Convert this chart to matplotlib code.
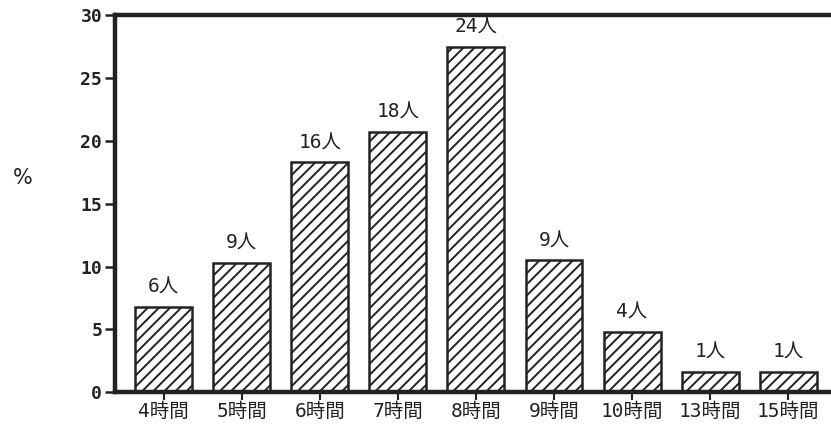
import numpy as np
import matplotlib.pyplot as plt

plt.rcParams['font.family'] = ['DejaVu Sans Mono', 'Noto Sans CJK JP']
plt.rcParams['hatch.linewidth'] = 1.4

hours = ['4時間', '5時間', '6時間', '7時間', '8時間', '9時間', '10時間', '13時間', '15時間']
people = [6, 9, 16, 18, 24, 9, 4, 1, 1]
# bar heights in %
percent = [6.8, 10.3, 18.3, 20.7, 27.5, 10.5, 4.8, 1.6, 1.6]
bar_labels = [f'{p}人' for p in people]

fig = plt.figure(figsize=(8.31, 4.32), dpi=100)
ax = fig.add_axes([0.138, 0.092, 0.862, 0.873])

x = np.arange(len(hours))
bars = ax.bar(x, percent, width=0.73, color='white', edgecolor='#222222',
              linewidth=1.8, hatch='///')

for b, lab in zip(bars, bar_labels):
    ax.text(b.get_x() + b.get_width() / 2, b.get_height() + 0.8, lab,
            ha='center', va='bottom', fontsize=14, color='#222222')

ax.set_xlim(-0.63, 8.55)
ax.set_ylim(0, 30)
ax.set_yticks(np.arange(0, 31, 5))
ax.set_xticks(x)
ax.set_xticklabels(hours, fontsize=14, color='#222222')
ax.tick_params(axis='y', labelsize=13, length=7, width=1.8, direction='out',
               colors='#222222', pad=2)
ax.tick_params(axis='x', length=6, width=1.5, direction='out', colors='#222222', pad=1)
for t in ax.get_yticklabels():
    t.set_fontweight('bold')

for s in ['left', 'top', 'bottom']:
    ax.spines[s].set_linewidth(3.2)
    ax.spines[s].set_color('#222222')
ax.spines['right'].set_visible(False)

fig.text(0.027, 0.588, '%', fontsize=15, color='#222222', ha='center', va='center',
         family='DejaVu Sans')

fig.savefig('out.png', dpi=100)
